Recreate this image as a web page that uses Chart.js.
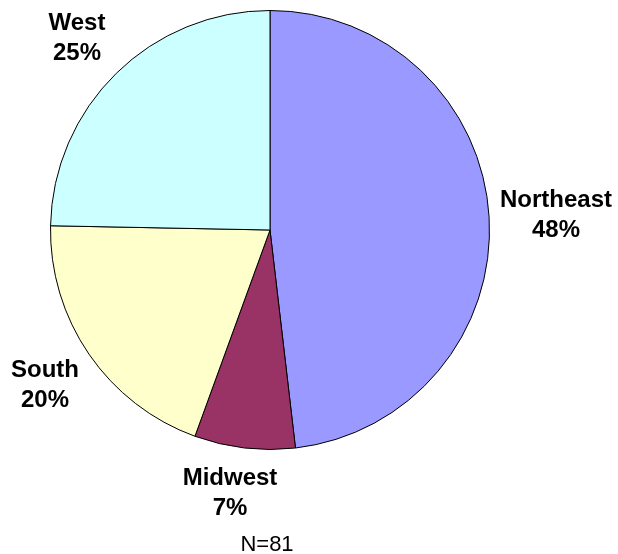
<!DOCTYPE html>
<html>
<head>
<meta charset="utf-8">
<script src="https://cdn.jsdelivr.net/npm/chart.js@4/dist/chart.umd.min.js"></script>
<style>
    html, body { margin: 0; padding: 0; background: #fff; }
    #wrap { width: 618px; height: 554px; }
</style>
</head>
<body>
<div id="wrap"><canvas id="chart" width="618" height="554"></canvas></div>
<script>
// Region counts (N=81), clockwise from 12 o'clock
var regions = ['Northeast', 'Midwest', 'South', 'West'];
var counts = [39, 6, 16, 20];
var sliceColors = ['#9999FF', '#993366', '#FFFFCC', '#CCFFFF'];

var total = counts.reduce(function(a, b) { return a + b; }, 0);

// where each two-line label sits (centre x, first baseline y)
var labelSpots = [
    { x: 556, y: 207 },
    { x: 230, y: 485 },
    { x: 45, y: 377 },
    { x: 77, y: 30 }
];

var labelPlugin = {
    id: 'sliceLabels',
    afterDraw: function(chart) {
        var ctx = chart.ctx;
        ctx.save();
        ctx.fillStyle = '#000';
        ctx.textAlign = 'center';
        ctx.textBaseline = 'alphabetic';
        ctx.font = 'bold 24px "Liberation Sans", Arial, sans-serif';
        regions.forEach(function(name, i) {
            var pct = Math.round(counts[i] / total * 100) + '%';
            var spot = labelSpots[i];
            ctx.fillText(name, spot.x, spot.y);
            ctx.fillText(pct, spot.x, spot.y + 30);
        });
        ctx.font = '22px "Liberation Sans", Arial, sans-serif';
        ctx.fillText('N=' + total, 267, 551);
        ctx.restore();
    }
};

new Chart(document.getElementById('chart'), {
    type: 'pie',
    data: {
        labels: regions,
        datasets: [{
            data: counts,
            backgroundColor: sliceColors,
            borderColor: '#000',
            borderWidth: 1
        }]
    },
    options: {
        responsive: false,
        animation: false,
        layout: {
            padding: { left: 50, right: 128, top: 10, bottom: 104 }
        },
        plugins: {
            legend: { display: false },
            tooltip: { enabled: false }
        }
    },
    plugins: [labelPlugin]
});
</script>
</body>
</html>
